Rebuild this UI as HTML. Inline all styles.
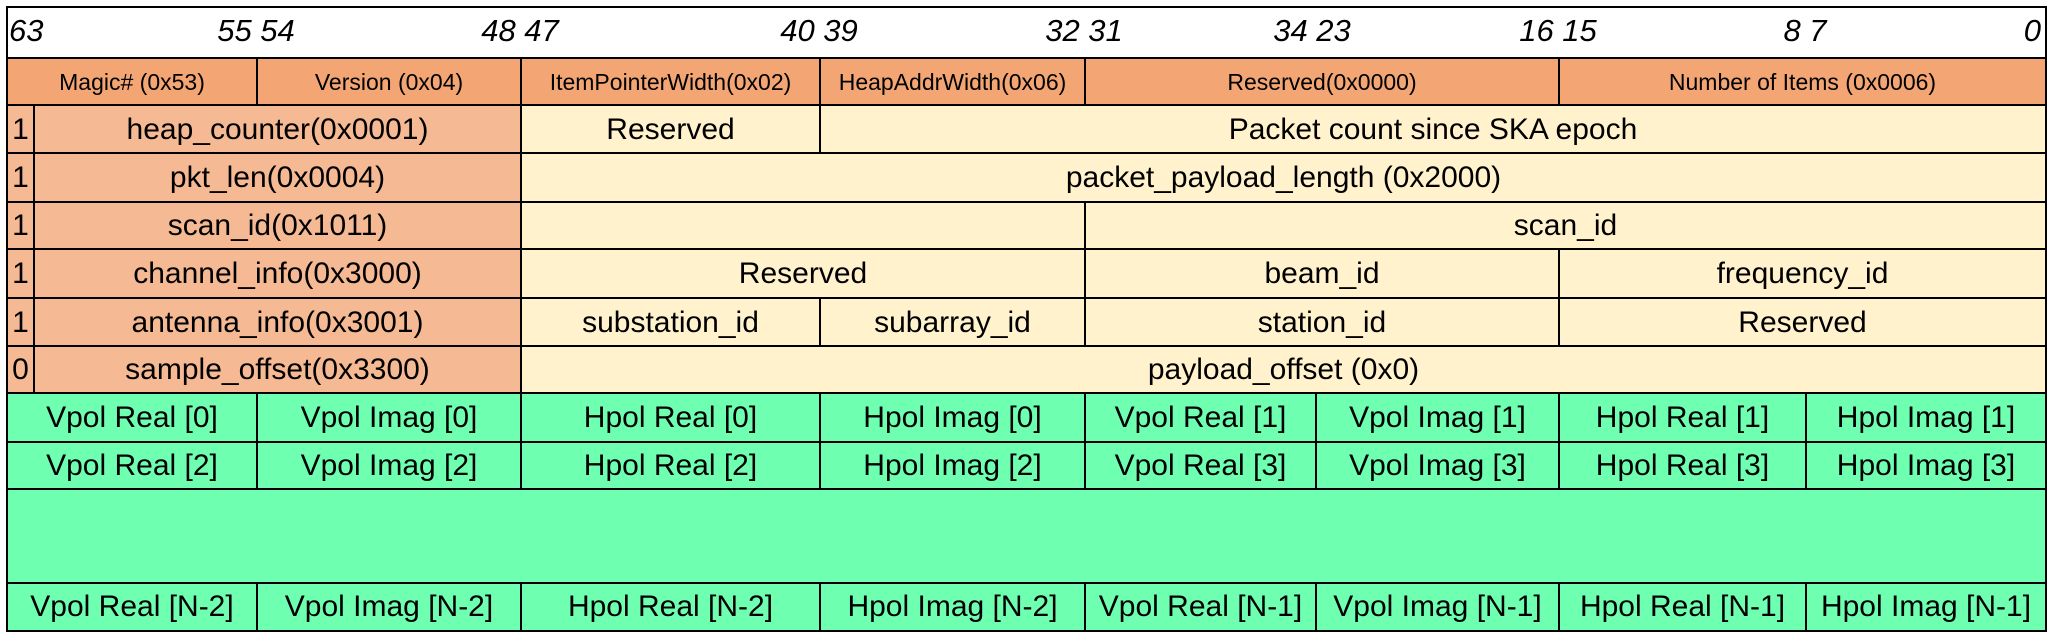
<!DOCTYPE html>
<html><head><meta charset="utf-8"><style>
body{margin:0;width:2055px;height:635px;background:#fff;position:relative;overflow:hidden;font-family:"Liberation Sans Narrow","Liberation Sans",sans-serif;}
.c{position:absolute;box-sizing:border-box;border:2px solid #000;display:flex;align-items:center;justify-content:center;font-size:30px;color:#000;white-space:nowrap;overflow:hidden}
.h{background:#F3A673;font-size:23px}
.o{background:#F5B993}
.y{background:#FFF2CC}
.g{background:#6EFFB0}
.n{position:absolute;top:13px;font-size:31px;font-style:italic;white-space:nowrap}
</style></head><body>
<div class="c" style="left:6px;top:6px;width:2041px;height:54px;background:#fff"></div>
<div class="n" style="left:9px">63</div>
<div class="n" style="left:256px;transform:translateX(-50%)">55 54</div>
<div class="n" style="left:520px;transform:translateX(-50%)">48 47</div>
<div class="n" style="left:819px;transform:translateX(-50%)">40 39</div>
<div class="n" style="left:1084px;transform:translateX(-50%)">32 31</div>
<div class="n" style="left:1312px;transform:translateX(-50%)">34 23</div>
<div class="n" style="left:1558px;transform:translateX(-50%)">16 15</div>
<div class="n" style="left:1805px;transform:translateX(-50%)">8 7</div>
<div class="n" style="right:14px">0</div>

<div class="c h" style="left:6px;top:57px;width:252px;height:50px">Magic# (0x53)</div>
<div class="c h" style="left:256px;top:57px;width:266px;height:50px">Version (0x04)</div>
<div class="c h" style="left:520px;top:57px;width:301px;height:50px">ItemPointerWidth(0x02)</div>
<div class="c h" style="left:819px;top:57px;width:267px;height:50px">HeapAddrWidth(0x06)</div>
<div class="c h" style="left:1084px;top:57px;width:476px;height:50px">Reserved(0x0000)</div>
<div class="c h" style="left:1558px;top:57px;width:489px;height:50px">Number of Items (0x0006)</div>

<div class="c o" style="left:6px;top:104px;width:29px;height:51px">1</div>
<div class="c o" style="left:33px;top:104px;width:489px;height:51px">heap_counter(0x0001)</div>
<div class="c y" style="left:520px;top:104px;width:301px;height:51px">Reserved</div>
<div class="c y" style="left:819px;top:104px;width:1228px;height:51px">Packet count since SKA epoch</div>

<div class="c o" style="left:6px;top:152px;width:29px;height:52px">1</div>
<div class="c o" style="left:33px;top:152px;width:489px;height:52px">pkt_len(0x0004)</div>
<div class="c y" style="left:520px;top:152px;width:1527px;height:52px">packet_payload_length (0x2000)</div>

<div class="c o" style="left:6px;top:201px;width:29px;height:50px">1</div>
<div class="c o" style="left:33px;top:201px;width:489px;height:50px">scan_id(0x1011)</div>
<div class="c y" style="left:520px;top:201px;width:566px;height:50px"></div>
<div class="c y" style="left:1084px;top:201px;width:963px;height:50px">scan_id</div>

<div class="c o" style="left:6px;top:248px;width:29px;height:52px">1</div>
<div class="c o" style="left:33px;top:248px;width:489px;height:52px">channel_info(0x3000)</div>
<div class="c y" style="left:520px;top:248px;width:566px;height:52px">Reserved</div>
<div class="c y" style="left:1084px;top:248px;width:476px;height:52px">beam_id</div>
<div class="c y" style="left:1558px;top:248px;width:489px;height:52px">frequency_id</div>

<div class="c o" style="left:6px;top:297px;width:29px;height:51px">1</div>
<div class="c o" style="left:33px;top:297px;width:489px;height:51px">antenna_info(0x3001)</div>
<div class="c y" style="left:520px;top:297px;width:301px;height:51px">substation_id</div>
<div class="c y" style="left:819px;top:297px;width:267px;height:51px">subarray_id</div>
<div class="c y" style="left:1084px;top:297px;width:476px;height:51px">station_id</div>
<div class="c y" style="left:1558px;top:297px;width:489px;height:51px">Reserved</div>

<div class="c o" style="left:6px;top:345px;width:29px;height:50px">0</div>
<div class="c o" style="left:33px;top:345px;width:489px;height:50px">sample_offset(0x3300)</div>
<div class="c y" style="left:520px;top:345px;width:1527px;height:50px">payload_offset (0x0)</div>

<div class="c g" style="left:6px;top:392px;width:252px;height:52px">Vpol Real [0]</div>
<div class="c g" style="left:256px;top:392px;width:266px;height:52px">Vpol Imag [0]</div>
<div class="c g" style="left:520px;top:392px;width:301px;height:52px">Hpol Real [0]</div>
<div class="c g" style="left:819px;top:392px;width:267px;height:52px">Hpol Imag [0]</div>
<div class="c g" style="left:1084px;top:392px;width:233px;height:52px">Vpol Real [1]</div>
<div class="c g" style="left:1315px;top:392px;width:245px;height:52px">Vpol Imag [1]</div>
<div class="c g" style="left:1558px;top:392px;width:249px;height:52px">Hpol Real [1]</div>
<div class="c g" style="left:1805px;top:392px;width:242px;height:52px">Hpol Imag [1]</div>

<div class="c g" style="left:6px;top:441px;width:252px;height:50px">Vpol Real [2]</div>
<div class="c g" style="left:256px;top:441px;width:266px;height:50px">Vpol Imag [2]</div>
<div class="c g" style="left:520px;top:441px;width:301px;height:50px">Hpol Real [2]</div>
<div class="c g" style="left:819px;top:441px;width:267px;height:50px">Hpol Imag [2]</div>
<div class="c g" style="left:1084px;top:441px;width:233px;height:50px">Vpol Real [3]</div>
<div class="c g" style="left:1315px;top:441px;width:245px;height:50px">Vpol Imag [3]</div>
<div class="c g" style="left:1558px;top:441px;width:249px;height:50px">Hpol Real [3]</div>
<div class="c g" style="left:1805px;top:441px;width:242px;height:50px">Hpol Imag [3]</div>

<div class="c g" style="left:6px;top:488px;width:2041px;height:97px"></div>

<div class="c g" style="left:6px;top:582px;width:252px;height:50px">Vpol Real [N-2]</div>
<div class="c g" style="left:256px;top:582px;width:266px;height:50px">Vpol Imag [N-2]</div>
<div class="c g" style="left:520px;top:582px;width:301px;height:50px">Hpol Real [N-2]</div>
<div class="c g" style="left:819px;top:582px;width:267px;height:50px">Hpol Imag [N-2]</div>
<div class="c g" style="left:1084px;top:582px;width:233px;height:50px">Vpol Real [N-1]</div>
<div class="c g" style="left:1315px;top:582px;width:245px;height:50px">Vpol Imag [N-1]</div>
<div class="c g" style="left:1558px;top:582px;width:249px;height:50px">Hpol Real [N-1]</div>
<div class="c g" style="left:1805px;top:582px;width:242px;height:50px">Hpol Imag [N-1]</div>
</body></html>
